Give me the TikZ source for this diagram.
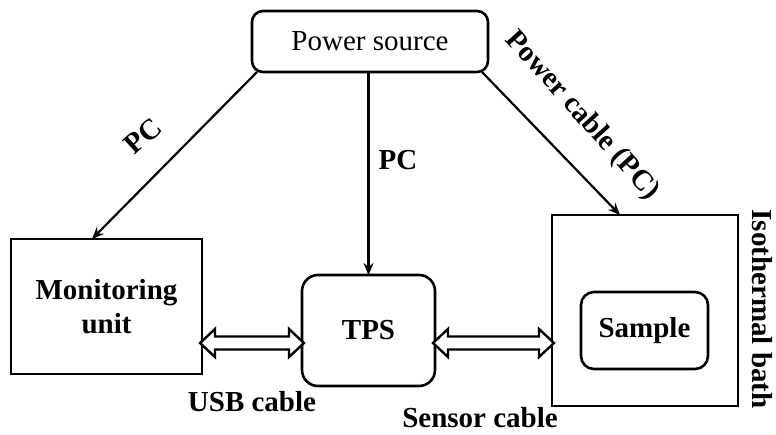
\documentclass[tikz,border=0pt]{standalone}
\usepackage{fontspec}
\setmainfont{Liberation Serif}
\usetikzlibrary{arrows.meta,calc}
\begin{document}
\begin{tikzpicture}[x=1pt,y=-1pt,
  box/.style={draw,line width=2.6pt,inner sep=0pt,outer sep=0pt},
  rbox/.style={box,rounded corners=#1},
  lbl/.style={font=\fontsize{29}{32}\selectfont\bfseries,inner sep=0pt},
  pcarrow/.style={line width=2.2pt,-{Stealth[length=12pt,width=10pt]}},
  cable/.style={draw,line width=2.4pt,line join=miter,fill=white}
]
\useasboundingbox (0,0) rectangle (776,434);
% nodes
\node[rbox=11pt,minimum width=236pt,minimum height=61pt,font=\fontsize{29}{32}\selectfont] (ps) at (370,41.5) {Power source};
\node[box,minimum width=191pt,minimum height=135pt,align=center,font=\fontsize{29}{34}\selectfont\bfseries] (mon) at (106.5,306.5) {Monitoring\\unit};
\node[rbox=16pt,minimum width=133pt,minimum height=111pt,font=\fontsize{29}{32}\selectfont\bfseries] (tps) at (368.5,330.5) {TPS};
\node[box,minimum width=186pt,minimum height=191pt] (bath) at (645,310.5) {};
\node[rbox=13pt,minimum width=127pt,minimum height=77pt,font=\fontsize{29}{32}\selectfont\bfseries] (smp) at (644.5,330.5) {Sample};
% power cables
\draw[pcarrow] ($(ps.south west)+(5,0)$) -- ($(mon.north west)+(81,0)$);
\draw[pcarrow] (ps.south -| tps.north) -- (tps.north);
\draw[pcarrow] ($(ps.south east)+(-6,0)$) -- ($(bath.north west)+(68,0)$);
% data cables (hollow double arrows)
\coordinate (usbL) at ($(mon.east)+(-2,36.5)$);
\coordinate (usbR) at ($(usbL -| tps.west)+(2,0)$);
\coordinate (senL) at ($(usbL -| tps.east)+(-2,0)$);
\coordinate (senR) at ($(usbL -| bath.west)+(2,0)$);
\foreach \a/\b in {usbL/usbR,senL/senR}{
  \path[cable] (\a) -- ($(\a)+(15,-14)$) -- ($(\a)+(15,-6.5)$) -- ($(\b)+(-15,-6.5)$)
    -- ($(\b)+(-15,-14)$) -- (\b) -- ($(\b)+(-15,14)$) -- ($(\b)+(-15,6.5)$)
    -- ($(\a)+(15,6.5)$) -- ($(\a)+(15,14)$) -- cycle;
}
% labels
\node[lbl,rotate=42] (l1) at (143,136) {PC};
\node[lbl] (l2) at (398,160) {PC};
\node[lbl,rotate=-48] (l3) at (582,116) {Power cable (PC)};
\node[lbl,rotate=-90] (l4) at (762,309) {Isothermal bath};
\node[lbl] (l5) at (252,402) {USB cable};
\node[lbl] (l6) at (480,418) {Sensor cable};
\end{tikzpicture}
\end{document}
